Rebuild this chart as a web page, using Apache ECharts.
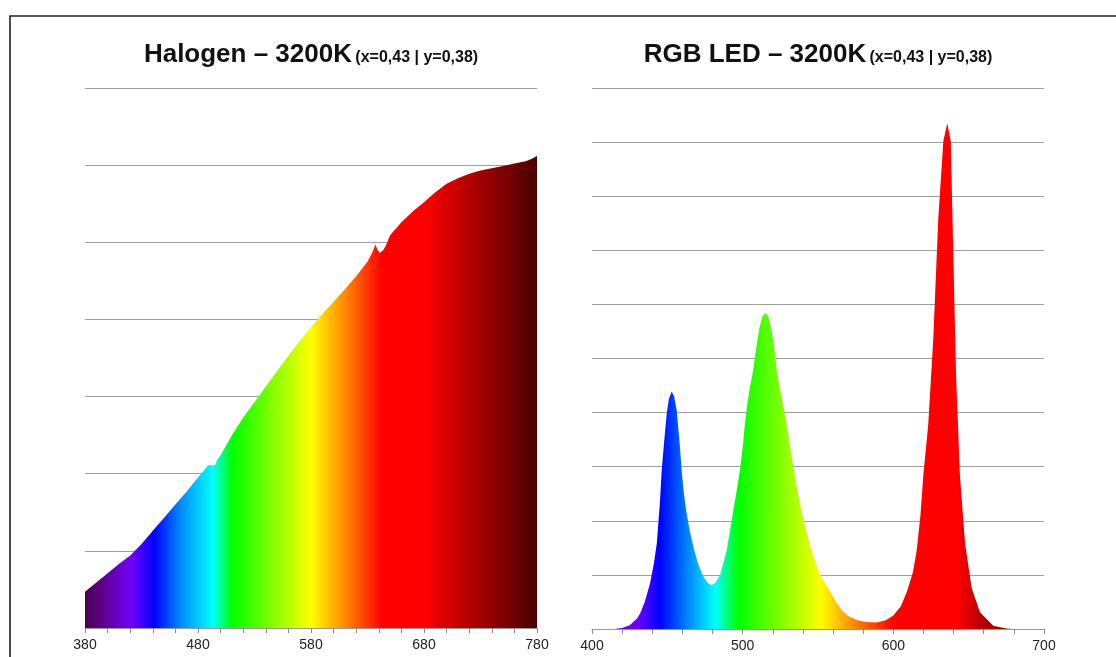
<!DOCTYPE html>
<html>
<head>
<meta charset="utf-8">
<script src="https://cdn.jsdelivr.net/npm/echarts@6/dist/echarts.min.js"></script>
<style>
html,body{margin:0;padding:0;background:#fff;}
#chart{width:1116px;height:657px;}
</style>
</head>
<body>
<div id="chart"></div>
<script>
// ---- Data ----
const halogenTitle = 'Halogen – 3200K';
const ledTitle = 'RGB LED – 3200K';
const chromaticity = '(x=0,43 | y=0,38)';

const halogenWavelengths = [380,390,400,410,420,430,440,450,460,470,480,485,489,495,497,500,510,520,530,540,550,560,570,580,590,600,610,620,630,634,637,639,641,644,646,650,660,670,680,690,700,710,720,730,740,750,760,770,775,780];
const halogenValues =      [0.47,0.59,0.71,0.83,0.94,1.09,1.26,1.43,1.60,1.77,1.95,2.04,2.11,2.11,2.18,2.24,2.50,2.73,2.93,3.13,3.33,3.53,3.72,3.90,4.07,4.23,4.39,4.56,4.75,4.86,4.97,4.90,4.86,4.90,4.95,5.09,5.26,5.40,5.52,5.65,5.76,5.83,5.89,5.93,5.96,5.99,6.02,6.05,6.08,6.12];

const ledWavelengths = [400,415,420,425,430,432,435,438.5,441,443,445,446.3,448,449.6,451,452.9,454.5,456.2,458,459.5,461,462.8,465,467.3,470,472.8,475,477,479.4,482,485,487,489.4,491.5,493.8,496,498.2,500,501.5,503,504.9,507,509,511,513,515,517,519,521,522.6,525,527.5,530,533.6,537,540,545,549,553,558,562,566,570,576,582,589,595,600,605,609,613,615.5,618,619.9,623.2,626.5,629.8,633.2,635.8,638.1,639.8,641.6,644.2,647.6,652,657.5,666.3,675,679,700];
const ledValues =      [0,0,0.02,0.07,0.2,0.29,0.5,0.84,1.2,1.58,2.3,2.94,3.5,3.99,4.25,4.39,4.3,4.05,3.5,2.94,2.5,2.14,1.8,1.52,1.25,1.03,0.92,0.85,0.81,0.86,1.0,1.2,1.46,1.8,2.2,2.55,2.94,3.35,3.8,4.15,4.48,4.79,5.2,5.55,5.77,5.84,5.78,5.55,5.2,4.79,4.4,4.05,3.65,3.0,2.45,2.05,1.52,1.17,0.92,0.7,0.5,0.34,0.24,0.16,0.13,0.12,0.16,0.25,0.42,0.69,1.05,1.45,2.1,2.84,3.79,5.36,7.57,9.02,9.35,9.02,6.94,4.73,2.84,1.58,0.76,0.31,0.06,0.01,0,0];

const halogenTickLabels = [380,480,580,680,780];
const ledTickLabels = [400,500,600,700];

// ---- Style: spectrum colour stops (wavelength -> colour) ----
const halogenColors = [[380,'#4b0050'],[400,'#6300a0'],[422,'#7000ff'],[441,'#0000ff'],[465,'#008cff'],[493,'#00ffff'],[510,'#00ff00'],[545,'#80ff00'],[580,'#ffff00'],[612,'#ff8000'],[643,'#ff0000'],[680,'#ff0000'],[720,'#b40000'],[780,'#4a0000']];
const ledColors = [[400,'#5a0090'],[415,'#6a00c8'],[430,'#7000ff'],[445,'#0000ff'],[465,'#0090ff'],[482,'#00ffff'],[497,'#00ff00'],[525,'#80ff00'],[552,'#ffff00'],[573,'#ff8c00'],[600,'#ff0000'],[642,'#ff0000'],[660,'#b00000'],[680,'#900000'],[700,'#800000']];

function gradient(stops, wls) {
  const lo = Math.min.apply(null, wls), hi = Math.max.apply(null, wls);
  return new echarts.graphic.LinearGradient(0, 0, 1, 0,
    stops.map(s => ({offset: Math.min(1, Math.max(0, (s[0] - lo) / (hi - lo))), color: s[1]})));
}
function pairs(xs, ys) { return xs.map((x, i) => [x, ys[i]]); }

const FONT = '"Liberation Sans", Arial, sans-serif';
const gridColor = '#a0a0a0';

function xAxis(idx, min, max, labels) {
  return {
    type: 'value', gridIndex: idx, min: min, max: max, interval: 20,
    axisLine: {show: true, lineStyle: {color: '#999', width: 1}},
    axisTick: {show: true, length: 5, lineStyle: {color: '#888'}},
    splitLine: {show: false},
    axisLabel: {
      show: true, color: '#222', fontSize: 14, fontFamily: FONT, margin: 10,
      formatter: v => (labels.indexOf(v) >= 0 ? String(v) : '')
    }
  };
}
function yAxis(idx, max) {
  return {
    type: 'value', gridIndex: idx, min: 0, max: max, interval: 1,
    axisLine: {show: false}, axisTick: {show: false}, axisLabel: {show: false},
    splitLine: {show: true, lineStyle: {color: gridColor, width: 1}}
  };
}

const titleRich = {
  a: {fontSize: 26, fontWeight: 'bold', fontFamily: FONT, fill: '#111', verticalAlign: 'bottom', lineHeight: 30},
  b: {fontSize: 16, fontWeight: 'bold', fontFamily: FONT, fill: '#111', verticalAlign: 'bottom', lineHeight: 30, padding: [0, 0, 2, 0]}
};

const chart = echarts.init(document.getElementById('chart'));
chart.setOption({
  animation: false,
  backgroundColor: '#fff',
  grid: [
    {left: 85, top: 88, width: 452, height: 540},
    {left: 592, top: 88, width: 452, height: 541}
  ],
  xAxis: [xAxis(0, 380, 780, halogenTickLabels), xAxis(1, 400, 700, ledTickLabels)],
  yAxis: [yAxis(0, 7), yAxis(1, 10)],
  series: [
    {
      type: 'line', xAxisIndex: 0, yAxisIndex: 0, showSymbol: false, symbol: 'none',
      data: pairs(halogenWavelengths, halogenValues),
      lineStyle: {width: 0}, silent: true,
      areaStyle: {opacity: 1, color: gradient(halogenColors, halogenWavelengths)}
    },
    {
      type: 'line', xAxisIndex: 1, yAxisIndex: 1, showSymbol: false, symbol: 'none',
      data: pairs(ledWavelengths, ledValues),
      lineStyle: {width: 0}, silent: true,
      areaStyle: {opacity: 1, color: gradient(ledColors, ledWavelengths)}
    }
  ],
  graphic: [
    {type: 'rect', shape: {x: 10, y: 16, width: 1200, height: 800}, style: {fill: 'none', stroke: '#222', lineWidth: 1.6}, silent: true},
    {type: 'text', x: 311, y: 53, style: {
      text: '{a|' + halogenTitle + '} {b|' + chromaticity + '}', align: 'center', verticalAlign: 'middle', rich: titleRich
    }},
    {type: 'text', x: 818, y: 53, style: {
      text: '{a|' + ledTitle + '} {b|' + chromaticity + '}', align: 'center', verticalAlign: 'middle', rich: titleRich
    }}
  ]
});
</script>
</body>
</html>
